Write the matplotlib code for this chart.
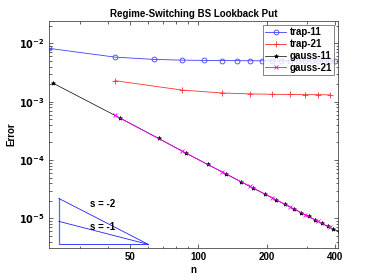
import numpy as np
import matplotlib
matplotlib.use("Agg")
import matplotlib.pyplot as plt
from matplotlib.ticker import FixedLocator, NullFormatter

plt.rcParams['font.family'] = ['Liberation Sans', 'DejaVu Sans']
plt.rcParams['font.weight'] = 'bold'
plt.rcParams['mathtext.default'] = 'bf'

# values
n_trap11 = [22, 43, 64, 85, 106, 127, 148, 169, 190, 211, 232, 253, 274, 295, 316, 337, 358, 379, 400]
err_trap11 = [8.2e-3, 5.8e-3, 5.3e-3, 5.15e-3, 5.1e-3, 5.07e-3, 5.05e-3, 5.03e-3, 5.02e-3, 5.01e-3,
              5.0e-3, 5.0e-3, 4.99e-3, 4.99e-3, 4.98e-3, 4.98e-3, 4.98e-3, 4.97e-3, 4.97e-3]

n_trap21 = [43, 85, 127, 169, 211, 253, 295, 337, 379]
err_trap21 = [2.29e-3, 1.58e-3, 1.41e-3, 1.36e-3, 1.34e-3, 1.33e-3, 1.32e-3, 1.32e-3, 1.31e-3]

n_gauss11 = [23, 45, 67, 88, 110, 132, 154, 175, 197, 219, 241, 263, 284, 306, 328, 350, 371, 393, 415]
err_gauss11 = [2.06e-3, 5.3e-4, 2.34e-4, 1.32e-4, 8.4e-5, 5.8e-5, 4.25e-5, 3.27e-5, 2.6e-5, 2.1e-5,
               1.74e-5, 1.46e-5, 1.25e-5, 1.08e-5, 9.4e-6, 8.2e-6, 7.3e-6, 6.5e-6, 6.05e-6]

n_gauss21 = [43, 85, 127, 169, 211, 253, 295, 337, 379]
err_gauss21 = [5.8e-4, 1.42e-4, 6.3e-5, 3.55e-5, 2.27e-5, 1.58e-5, 1.16e-5, 8.9e-6, 7.0e-6]

# slope triangle
tri_n = [24.3, 60.3]
tri_err = [3.58e-6, 8.9e-6, 2.2e-5]

x_ticks = [50, 100, 200, 400]
x_minor = [30, 40, 60, 70, 80, 90, 300]
y_ticks = [1e-5, 1e-4, 1e-3, 1e-2]
y_ticklabels = [r'$10^{-5}$', r'$10^{-4}$', r'$10^{-3}$', r'$10^{-2}$']

fig = plt.figure(figsize=(3.74, 2.8), dpi=100)
ax = fig.add_axes([0.131, 0.114, 0.773, 0.812])

ax.plot(n_trap11, err_trap11, '-o', color='#4040ff', lw=0.6, ms=3.5, mfc='none', mew=0.6, label='trap-11')
ax.plot(n_trap21, err_trap21, '-+', color='#ff3030', lw=0.6, ms=4, mew=0.6, label='trap-21')
ax.plot(n_gauss11, err_gauss11, '-*', color='k', lw=0.5, ms=3, mew=0.5, label='gauss-11')
ax.plot(n_gauss21, err_gauss21, '-x', color='#ff00ff', lw=0.6, ms=2.5, mew=0.6, label='gauss-21')

# triangle: bottom edge, vertical edge, two hypotenuses
ax.plot([tri_n[0], tri_n[1]], [tri_err[0], tri_err[0]], color='#2020ff', lw=0.6)
ax.plot([tri_n[0], tri_n[0]], [tri_err[0], tri_err[2]], color='#6060ff', lw=0.9)
ax.plot([tri_n[0], tri_n[1]], [tri_err[2], tri_err[0]], color='#2020ff', lw=0.6)
ax.plot([tri_n[0], tri_n[1]], [tri_err[1], tri_err[0]], color='#2020ff', lw=0.6)
ax.text(33.4, 1.76e-5, 's = -2', fontsize=7, fontweight='bold', va='center', ha='left')
ax.text(33.4, 7.1e-6, 's = -1', fontsize=7, fontweight='bold', va='center', ha='left')

ax.set_xscale('log')
ax.set_yscale('log')
ax.set_xlim(22, 413)
ax.set_ylim(3.1e-6, 2.44e-2)

ax.xaxis.set_major_locator(FixedLocator(x_ticks))
ax.xaxis.set_minor_locator(FixedLocator(x_minor))
ax.xaxis.set_minor_formatter(NullFormatter())
ax.set_xticklabels([str(t) for t in x_ticks])
ax.set_yticks(y_ticks)
ax.set_yticklabels(y_ticklabels)

ax.tick_params(which='both', direction='in', top=True, right=True, labelsize=7, colors='#262626', pad=3)
ax.tick_params(which='major', length=3, width=0.5)
ax.tick_params(which='minor', length=1.8, width=0.5)
for s in ax.spines.values():
    s.set_linewidth(0.5)
    s.set_color('#262626')
for lbl in ax.get_xticklabels() + ax.get_yticklabels():
    lbl.set_fontweight('bold')
    lbl.set_color('k')

ax.set_xlabel('n', fontsize=7, fontweight='bold', labelpad=2)
ax.set_ylabel('Error', fontsize=7, fontweight='bold', labelpad=2)
ax.set_title('Regime-Switching BS Lookback Put', fontsize=7, fontweight='bold', pad=3)

leg = ax.legend(loc='upper right', fontsize=7, frameon=True, fancybox=False, edgecolor='#262626',
                borderpad=0.25, labelspacing=0.2, handlelength=2.2, handletextpad=0.3, borderaxespad=0.4)
leg.get_frame().set_linewidth(0.5)
for t in leg.get_texts():
    t.set_fontweight('bold')

fig.savefig('out.png', dpi=100)
